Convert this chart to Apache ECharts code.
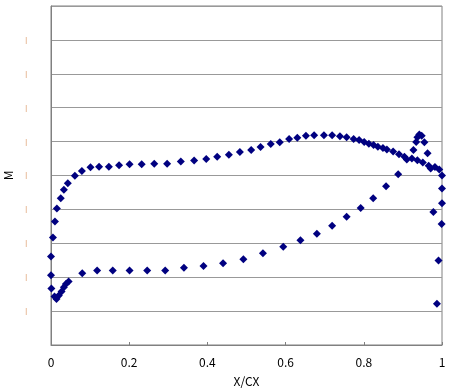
<!DOCTYPE html>
<html>
<head>
<meta charset="utf-8">
<script src="https://cdn.jsdelivr.net/npm/echarts@6/dist/echarts.min.js"></script>
<style>html,body{margin:0;padding:0;background:#fff}#c{width:450px;height:390px}</style>
</head>
<body>
<div id="c"></div>
<script>
var xTicks = ['0','0.2','0.4','0.6','0.8','1'];
var upperX = [0.000,0.005,0.010,0.015,0.025,0.033,0.043,0.061,0.079,0.101,0.123,0.148,0.174,0.201,0.232,0.264,0.297,0.332,0.366,0.397,0.425,0.455,0.483,0.512,0.536,0.562,0.585,0.609,0.630,0.652,0.673,0.698,0.719,0.739,0.756,0.774,0.788,0.801,0.813,0.825,0.836,0.849,0.859,0.875,0.890,0.904,0.910,0.923,0.937,0.951,0.966,0.971,0.982,0.993,1.000];
var upperM = [0.261,0.317,0.364,0.403,0.433,0.458,0.477,0.499,0.513,0.524,0.526,0.526,0.530,0.533,0.533,0.535,0.535,0.541,0.544,0.549,0.555,0.561,0.569,0.575,0.584,0.593,0.598,0.608,0.611,0.617,0.619,0.619,0.619,0.616,0.613,0.608,0.605,0.599,0.594,0.590,0.585,0.581,0.577,0.571,0.563,0.555,0.547,0.550,0.545,0.538,0.529,0.521,0.525,0.518,0.500];
var lowerX = [0.000,0.001,0.009,0.014,0.020,0.027,0.033,0.038,0.045,0.080,0.118,0.158,0.201,0.246,0.292,0.340,0.390,0.440,0.492,0.542,0.594,0.638,0.680,0.719,0.756,0.792,0.824,0.857,0.888,0.927,0.934,0.937,0.942,0.948,0.955,0.963,1.000,1.000,0.999,0.978,0.991,0.987];
var lowerM = [0.206,0.167,0.143,0.136,0.146,0.158,0.170,0.180,0.187,0.212,0.220,0.220,0.220,0.220,0.220,0.228,0.233,0.241,0.253,0.271,0.290,0.309,0.328,0.352,0.378,0.404,0.433,0.468,0.504,0.575,0.599,0.613,0.621,0.617,0.598,0.566,0.462,0.418,0.357,0.392,0.249,0.122];

function pairs(xs, ys){ return xs.map(function(x,i){ return [x, ys[i]]; }); }

var chart = echarts.init(document.getElementById('c'));
var markerStyle = {color:'#000080',opacity:1};
chart.setOption({
  animation:false,
  backgroundColor:'#fff',
  grid:{left:51,right:8,top:6,bottom:45,containLabel:false,outerBoundsMode:'none',show:true,borderColor:'#808080',borderWidth:1},
  xAxis:{
    type:'value',min:0,max:1,interval:0.2,
    name:'X/CX',nameLocation:'middle',nameGap:30,
    nameTextStyle:{color:'#000',fontSize:12,fontFamily:'Noto Sans CJK JP, sans-serif'},
    axisLine:{lineStyle:{color:'#808080'}},
    axisTick:{show:true,inside:true,length:3,lineStyle:{color:'#808080'}},
    splitLine:{show:false},
    axisLabel:{color:'#000',fontSize:12,margin:11,fontFamily:'Noto Sans CJK JP, sans-serif',
      formatter:function(v){ var i=Math.round(v/0.2); return xTicks[i]!==undefined?xTicks[i]:''; }}
  },
  yAxis:{
    type:'value',min:0,max:1,interval:0.1,
    name:'M',nameLocation:'middle',nameGap:35,
    nameTextStyle:{color:'#000',fontSize:12,fontFamily:'Noto Sans CJK JP, sans-serif'},
    axisLine:{show:true,lineStyle:{color:'#808080'}},
    axisTick:{show:false},
    splitLine:{show:true,lineStyle:{color:'#999999',width:1}},
    axisLabel:{color:'#d8905a',fontSize:7,margin:24,
      formatter:function(v){ return (v>0.001 && v<0.999)?'|':''; }}
  },
  series:[
    {type:'scatter',symbol:'diamond',symbolSize:8,itemStyle:markerStyle,data:pairs(upperX,upperM)},
    {type:'scatter',symbol:'diamond',symbolSize:8,itemStyle:markerStyle,data:pairs(lowerX,lowerM)}
  ]
});
</script>
</body>
</html>
